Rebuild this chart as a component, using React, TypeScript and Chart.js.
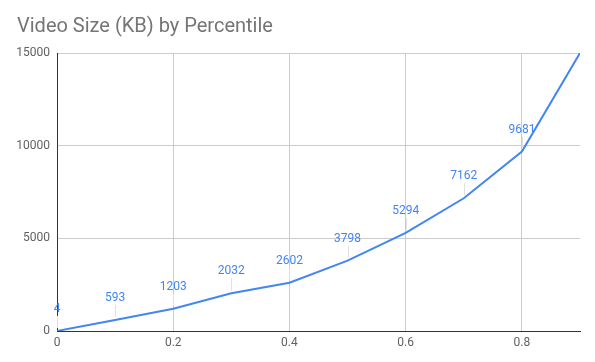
import React, { useEffect, useRef } from "react";
import { Chart, registerables } from "chart.js";

Chart.register(...registerables);

const title = "Video Size (KB) by Percentile";
const percentiles = [0, 0.1, 0.2, 0.3, 0.4, 0.5, 0.6, 0.7, 0.8, 0.9];
const sizesKB = [4, 593, 1203, 2032, 2602, 3798, 5294, 7162, 9681, 15000];
const shownLabels = ["4", "593", "1203", "2032", "2602", "3798", "5294", "7162", "9681", ""];
const xTicks = [0, 0.2, 0.4, 0.6, 0.8];
const yTicks = [0, 5000, 10000, 15000];

const FONT = "Roboto, 'Noto Sans', Arial, sans-serif";

const overlayPlugin = {
  id: "overlay",
  afterDraw(chart: any) {
    const ctx = chart.ctx;
    ctx.save();
    ctx.fillStyle = "#757575";
    ctx.font = `20px ${FONT}`;
    ctx.textAlign = "left";
    ctx.textBaseline = "alphabetic";
    ctx.fillText(title, 17, 32);
    ctx.restore();
  },
  afterDatasetsDraw(chart: any) {
    const ctx = chart.ctx;
    const meta = chart.getDatasetMeta(0);
    ctx.save();
    meta.data.forEach((pt: any, i: number) => {
      const label = shownLabels[i];
      if (!label) return;
      const x = pt.x;
      const y = pt.y;
      ctx.strokeStyle = "#e0e0e0";
      ctx.lineWidth = 1;
      ctx.beginPath();
      ctx.moveTo(Math.round(x) + 0.5, y - 3);
      ctx.lineTo(Math.round(x) + 0.5, y - 15);
      ctx.stroke();
      ctx.fillStyle = "#4285f4";
      ctx.font = `12px ${FONT}`;
      ctx.textAlign = "center";
      ctx.textBaseline = "middle";
      ctx.fillText(label, x, y - 22);
    });
    ctx.restore();
  },
};

export default function App() {
  const ref = useRef<HTMLCanvasElement>(null);
  useEffect(() => {
    document.body.style.margin = "0";
    const canvas = ref.current!;
    const chart = new Chart(canvas, {
      type: "line",
      data: {
        datasets: [
          {
            data: percentiles.map((p, i) => ({ x: p, y: sizesKB[i] })),
            borderColor: "#4285f4",
            borderWidth: 2,
            pointRadius: 0,
            tension: 0,
            fill: false,
          },
        ],
      },
      options: {
        responsive: false,
        animation: false,
        events: [],
        layout: { padding: { top: 53, right: 15, left: 0, bottom: 0 } },
        plugins: {
          legend: { display: false },
          title: { display: false },
          tooltip: { enabled: false },
        },
        scales: {
          x: {
            type: "linear",
            min: 0,
            max: 0.9,
            afterBuildTicks: (scale: any) => {
              scale.ticks = xTicks.map((v) => ({ value: v }));
            },
            afterFit: (scale: any) => {
              scale.height = 31;
            },
            grid: { color: "#cccccc", drawTicks: false },
            border: { color: "#333333", width: 1 },
            ticks: {
              color: "#616161",
              font: { family: FONT, size: 12 },
              padding: 5,
              maxRotation: 0,
              callback: (v: any) => String(Math.round(Number(v) * 10) / 10),
            },
          },
          y: {
            type: "linear",
            min: 0,
            max: 15000,
            afterBuildTicks: (scale: any) => {
              scale.ticks = yTicks.map((v) => ({ value: v }));
            },
            afterFit: (scale: any) => {
              scale.width = 57;
            },
            grid: { color: "#cccccc", drawTicks: false },
            border: { color: "#333333", width: 1 },
            ticks: {
              color: "#616161",
              font: { family: FONT, size: 12 },
              padding: 7,
              callback: (v: any) => String(v),
            },
          },
        },
      },
      plugins: [overlayPlugin],
    } as any);
    return () => chart.destroy();
  }, []);
  return <canvas ref={ref} width={595} height={362} style={{ display: "block" }} />;
}
